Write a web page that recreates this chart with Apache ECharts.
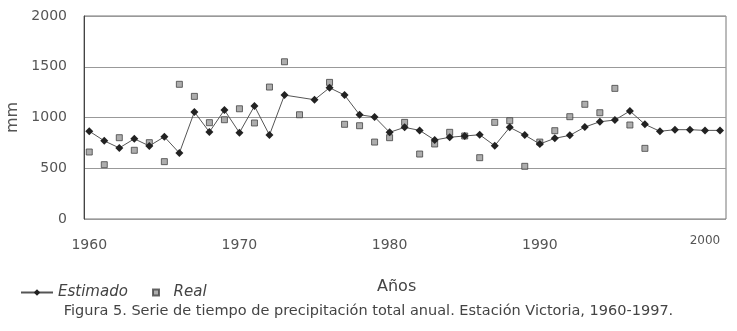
<!DOCTYPE html>
<html>
<head>
<meta charset="utf-8">
<script src="https://cdn.jsdelivr.net/npm/echarts@6/dist/echarts.min.js"></script>
<style>
  html, body { margin: 0; padding: 0; background: #fff; }
  #chart { width: 737px; height: 331px; }
</style>
</head>
<body>
<div id="chart"></div>
<script>
// años de la serie
var years = [1960, 1961, 1962, 1963, 1964, 1965, 1966, 1967, 1968, 1969,
             1970, 1971, 1972, 1973, 1974, 1975, 1976, 1977, 1978, 1979,
             1980, 1981, 1982, 1983, 1984, 1985, 1986, 1987, 1988, 1989,
             1990, 1991, 1992, 1993, 1994, 1995, 1996, 1997, 1998, 1999,
             2000, 2001, 2002];
// precipitación estimada (mm)
var estimado = [865, 770, 700, 790, 720, 810, 650, 1055, 857, 1074,
                850, 1113, 827, 1221, null, 1175, 1293, 1221, 1027, 1005,
                854, 903, 873, 778, 805, 818, 830, 722, 903, 827,
                739, 795, 824, 906, 958, 975, 1064, 933, 864, 880,
                880, 873, 873];
// precipitación real (mm)
var real = [660, 535, 801, 677, 752, 565, 1327, 1208, 949, 978,
            1086, 946, 1300, 1549, 1027, null, 1346, 933, 919, 758,
            801, 952, 640, 739, 854, 818, 604, 952, 968, 519,
            758, 870, 1008, 1130, 1047, 1287, 926, 696, null, null,
            null, null, null];
var xLabels = [1960, 1970, 1980, 1990, 2000];
var yTicks = [0, 500, 1000, 1500, 2000];

var chart = echarts.init(document.getElementById('chart'));

// pares [año, valor] sin los años vacíos
function pairs(vals) {
  var out = [];
  for (var i = 0; i < years.length; i++) {
    if (vals[i] != null) out.push([years[i], vals[i]]);
  }
  return out;
}

var font = 'DejaVu Sans, sans-serif';

var option = {
  animation: false,
  textStyle: { fontFamily: font },
  grid: {
    left: 84, right: 11, top: 16, bottom: 112, containLabel: false, outerBoundsMode: 'none',
    show: true, borderColor: '#777', borderWidth: 1
  },
  legend: [
    {
      left: 15, top: 280, itemWidth: 32, itemHeight: 8,
      textStyle: { fontSize: 15, fontStyle: 'italic', color: '#444', fontFamily: font },
      data: ['Estimado']
    },
    {
      left: 147, top: 280, itemWidth: 6, itemHeight: 6,
      formatter: '  {name}',
      textStyle: { fontSize: 15, fontStyle: 'italic', color: '#444', fontFamily: font },
      data: ['Real']
    }
  ],
  title: {
    text: 'Figura 5. Serie de tiempo de precipitación total anual. Estación Victoria, 1960-1997.',
    left: 'center', top: 299,
    textStyle: { fontSize: 14.5, fontWeight: 'normal', color: '#444', fontFamily: font }
  },
  graphic: [{
    type: 'text', left: 377, top: 279,
    style: { text: 'Años', fontSize: 16, fill: '#444', fontFamily: font }
  }],
  xAxis: {
    type: 'value', min: 1959.65, max: 2002.4,
    axisLine: { show: false }, axisTick: { show: false }, splitLine: { show: false },
    axisLabel: {
      customValues: xLabels, margin: 16, fontSize: 14, color: '#555',
      formatter: function (v) { return v === 2000 ? '{s|2000}' : '{n|' + v + '}'; },
      rich: {
        n: { fontSize: 14, color: '#555', padding: [3, 0, 0, 0] },
        s: { fontSize: 12, color: '#555', padding: [0, 0, 0, 30] }
      }
    }
  },
  yAxis: {
    type: 'value', min: 0, max: 2000, interval: 500,
    name: 'mm', nameLocation: 'middle', nameGap: 62, nameRotate: 90,
    nameTextStyle: { fontSize: 16, color: '#555' },
    axisLine: { show: true, lineStyle: { color: '#444' } }, axisTick: { show: false },
    axisLabel: {
      customValues: yTicks, fontSize: 14, color: '#555', margin: 17,
      formatter: function (v) { return String(v); }
    },
    splitLine: { lineStyle: { color: '#999', width: 1 } }
  },
  series: [
    {
      name: 'Estimado', type: 'line', data: pairs(estimado), connectNulls: true,
      symbol: 'diamond', symbolSize: 8, showAllSymbol: true,
      lineStyle: { color: '#555', width: 1 },
      itemStyle: { color: '#222' }, z: 3
    },
    {
      name: 'Real', type: 'scatter', data: pairs(real),
      symbol: 'rect', symbolSize: 6,
      itemStyle: { color: '#999', borderColor: '#444', borderWidth: 1 }, z: 2
    }
  ]
};

chart.setOption(option);
</script>
</body>
</html>
